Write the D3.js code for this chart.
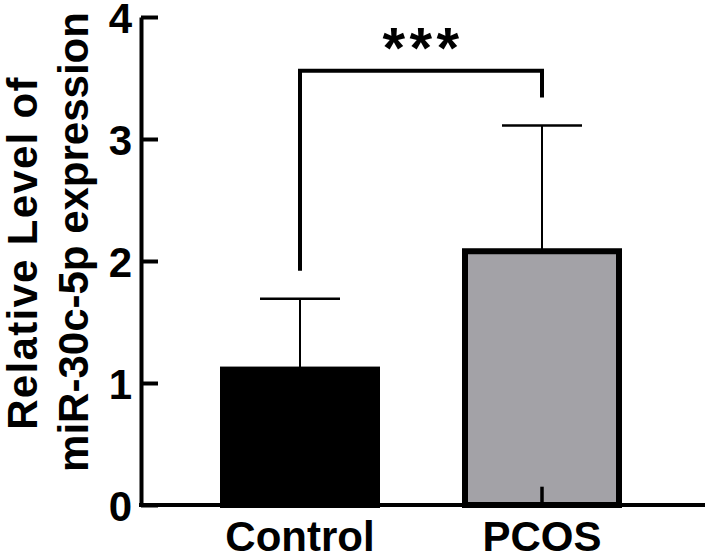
<!DOCTYPE html>
<meta charset="UTF-8">
<head>
<title>miR-30c-5p expression</title>
<style>
body { margin: 0; background: #fff; }
svg text { font-family: "Liberation Sans", Arial, sans-serif; font-weight: bold; fill: #000; }
.axis path, .axis line { stroke: #000; }
</style>
</head>
<body>
<script src="https://d3js.org/d3.v7.min.js"></script>
<script>

// data
var groups = ["Control", "PCOS"];
var means = [1.11, 2.08];
var sds = [0.58, 1.03];
var barFills = ["#000000", "#a3a2a7"];
var yTicks = [0, 1, 2, 3, 4];
var lowMark = [null, 0.15];      // short stub visible at the bottom of the PCOS bar
var bracket = [1.92, 3.56, 3.34]; // left leg end, bar height, right leg end
var sigLabel = "***";

var width = 708, height = 556;

var svg = d3.select("body").append("svg")
    .attr("width", width)
    .attr("height", height);

var y = d3.scaleLinear().domain([0, 4]).range([505, 17]);
var x = d3.scalePoint().domain(groups).range([300, 542]);
var barW = 154;
var capW = 80;

// error bars (upper only)
groups.forEach(function(g, i) {
  svg.append("line")
      .attr("x1", x(g)).attr("x2", x(g))
      .attr("y1", y(means[i])).attr("y2", y(means[i] + sds[i]))
      .attr("stroke", "#000").attr("stroke-width", 2);
  svg.append("line")
      .attr("x1", x(g) - capW / 2).attr("x2", x(g) + capW / 2)
      .attr("y1", y(means[i] + sds[i])).attr("y2", y(means[i] + sds[i]))
      .attr("stroke", "#000").attr("stroke-width", 2.5);
});

// bars
svg.selectAll("rect.bar")
    .data(groups)
  .enter().append("rect")
    .attr("class", "bar")
    .attr("x", function(d) { return x(d) - barW / 2; })
    .attr("width", barW)
    .attr("y", function(d, i) { return y(means[i]); })
    .attr("height", function(d, i) { return y(0) - y(means[i]); })
    .attr("fill", function(d, i) { return barFills[i]; })
    .attr("stroke", "#000")
    .attr("stroke-width", 6);

groups.forEach(function(g, i) {
  if (lowMark[i] == null) return;
  svg.append("line")
      .attr("x1", x(g)).attr("x2", x(g))
      .attr("y1", y(0)).attr("y2", y(lowMark[i]))
      .attr("stroke", "#000").attr("stroke-width", 3.5);
});

// y axis, ticks pointing inward
var yAxis = svg.append("g")
    .attr("class", "axis")
    .attr("transform", "translate(141,0)")
    .call(d3.axisLeft(y).tickValues(yTicks).tickFormat(d3.format("d"))
      .tickSizeInner(-17).tickSizeOuter(0).tickPadding(9));
yAxis.select(".domain").attr("stroke-width", 4);
yAxis.selectAll(".tick line").attr("stroke-width", 4);
yAxis.selectAll(".tick text")
    .style("font-size", "42px")
    .attr("dy", "0.36em");

// x baseline + labels
svg.append("line")
    .attr("x1", 139).attr("x2", 705)
    .attr("y1", y(0)).attr("y2", y(0))
    .attr("stroke", "#000").attr("stroke-width", 4);

svg.selectAll("text.xlab")
    .data(groups)
  .enter().append("text")
    .attr("class", "xlab")
    .attr("x", function(d) { return x(d); })
    .attr("y", 551)
    .attr("text-anchor", "middle")
    .style("font-size", "42px")
    .text(function(d) { return d; });

// y title
svg.append("text")
    .attr("transform", "translate(37,253) rotate(-90)")
    .attr("text-anchor", "middle")
    .style("font-size", "42px")
    .style("letter-spacing", "1.3px")
    .text("Relative Level of");
svg.append("text")
    .attr("transform", "translate(88,242) rotate(-90)")
    .attr("text-anchor", "middle")
    .style("font-size", "42px")
    .text("miR-30c-5p expression");

// significance bracket
var bracketPts = [
  [x(groups[0]), y(bracket[0])],
  [x(groups[0]), y(bracket[1])],
  [x(groups[1]), y(bracket[1])],
  [x(groups[1]), y(bracket[2])]
];
svg.append("path")
    .attr("d", d3.line()(bracketPts))
    .attr("fill", "none")
    .attr("stroke", "#000")
    .attr("stroke-width", 4);

svg.append("text")
    .attr("x", (x(groups[0]) + x(groups[1])) / 2 + 2)
    .attr("y", 68)
    .attr("text-anchor", "middle")
    .style("font-size", "58px")
    .style("letter-spacing", "4.5px")
    .text(sigLabel);

</script>
</body>
</html>
